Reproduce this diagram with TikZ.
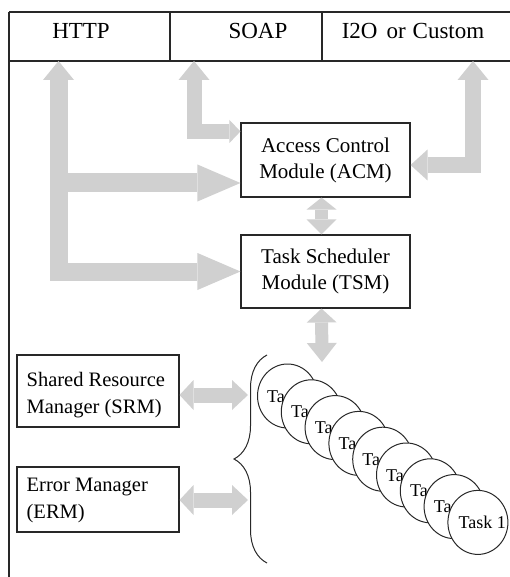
\documentclass[tikz,border=0pt]{standalone}
\usepackage{fontspec}
\setmainfont{Liberation Serif}
\usetikzlibrary{arrows.meta,decorations.pathreplacing,shapes.geometric,calc}
\definecolor{arrowgray}{RGB}{208,208,208}
\definecolor{ink}{RGB}{40,40,40}
\begin{document}
\begin{tikzpicture}[x=1pt,y=-1pt,
  frame/.style={draw=ink, line width=1.1pt},
  headtext/.style={inner sep=0pt, font=\fontsize{23}{27}\selectfont},
  box/.style={draw=ink, line width=1.1pt, fill=white, inner sep=0pt,
    minimum width=169pt, minimum height=74pt, align=center,
    font=\fontsize{21}{26}\selectfont},
  sidebox/.style={draw=ink, line width=1.1pt, fill=white, inner sep=0pt,
    minimum width=162pt},
  sidetext/.style={anchor=west, inner sep=0pt, align=left,
    font=\fontsize{20.5}{27}\selectfont},
  taskdisc/.style={ellipse, draw=ink, line width=1pt, fill=white,
    minimum width=60pt, minimum height=64pt, inner sep=0pt},
  tasktext/.style={anchor=west, inner sep=0pt, font=\fontsize{18}{20}\selectfont},
  fat/.style={draw=arrowgray, line width=#1},
]
\useasboundingbox (0,0) rectangle (509,577);

% protocol bar and left border
\draw[frame] (9,12) -- (512,12);
\draw[frame] (9,61) -- (512,61);
\draw[frame] (170,12) -- (170,61);
\draw[frame] (322,12) -- (322,61);
\draw[frame] (9,12) -- (9,580);
\node[headtext] (http) at (81,31) {HTTP};
\node[headtext] (soap) at (258,31) {SOAP};
\node[headtext] (i2o) at (413,31) {I2O\hspace{9pt}or\hspace{7pt}Custom};

% ports on the protocol bar
\coordinate (hport) at (58.5,61);
\coordinate (sport) at (194,61);
\coordinate (iport) at (473,61);

% modules
\node[box] (acm) at (325.5,160) {Access Control\\Module (ACM)};
\node[box, minimum height=73pt] (tsm) at (325.5,271.5) {Task Scheduler\\Module (TSM)};
\node[sidebox, minimum height=72pt] (srm) at (98,391) {};
\node[sidetext] (srmtext) at ([xshift=10pt,yshift=-4pt]srm.west) {Shared Resource\\Manager (SRM)};
\node[sidebox, minimum height=65pt] (erm) at (98,499.5) {};
\node[sidetext] (ermtext) at ([xshift=10pt,yshift=-1pt]erm.west) {Error Manager\\(ERM)};

% attachment points
\coordinate (acmsoap) at ([yshift=-9pt]acm.north west);
\coordinate (acmhttp) at ([yshift=-23pt]acm.west);
\coordinate (acmi2o) at ([yshift=-5pt]acm.east);
\coordinate (grp) at (322,362);
\coordinate (brs) at (248,395);
\coordinate (bre) at (248,500);
\coordinate (brtop) at (267,355);
\coordinate (brbot) at (267,563);

% wide grey connectors
\draw[fat=18pt, {Triangle[length=19pt,width=31pt,line width=0pt]}-{Triangle[length=43pt,width=37pt,line width=0pt]}]
  (hport) |- (tsm.west);
\draw[fat=19pt, -{Triangle[length=43pt,width=37pt,line width=0pt]}]
  (hport |- acmhttp) -- (acmhttp);
\draw[fat=15pt, {Triangle[length=19pt,width=31pt,line width=0pt]}-{Triangle[length=11pt,width=23pt,line width=0pt]}]
  (sport) |- (acmsoap);
\draw[fat=16pt, {Triangle[length=19pt,width=31pt,line width=0pt]}-{Triangle[length=17pt,width=31pt,line width=0pt]}]
  (iport) |- (acmi2o);
\draw[fat=13pt, {Triangle[length=12pt,width=30pt,line width=0pt]}-{Triangle[length=15pt,width=30pt,line width=0pt]}]
  ([xshift=-4pt]acm.south) -- ([xshift=-4pt]tsm.north);
\draw[fat=13pt, {Triangle[length=14pt,width=30pt,line width=0pt]}-{Triangle[length=19pt,width=30pt,line width=0pt]}]
  ([xshift=-4pt]tsm.south) -- (grp);
\draw[fat=15pt, {Triangle[length=14pt,width=30pt,line width=0pt]}-{Triangle[length=16pt,width=30pt,line width=0pt]}]
  (srm.east |- brs) -- (brs);
\draw[fat=15pt, {Triangle[length=14pt,width=30pt,line width=0pt]}-{Triangle[length=16pt,width=30pt,line width=0pt]}]
  (erm.east |- bre) -- (bre);

% brace grouping the tasks
\draw[draw=ink, line width=1pt, decorate, decoration={brace, amplitude=33pt}]
  (brbot) -- (brtop);

% stacked task discs, each partly covering the previous one
\foreach \i in {0,...,7} {
  \node[taskdisc] (t\i) at ({287.5+23.8*\i},{396+15.8*\i}) {};
  \node[tasktext] (tl\i) at ([xshift=10pt]t\i.west) {Task};
}
\node[taskdisc] (t8) at ({287.5+23.8*8},{396+15.8*8}) {};
\node[tasktext] (tl8) at ([xshift=11pt]t8.west) {Task 1};
\end{tikzpicture}
\end{document}
